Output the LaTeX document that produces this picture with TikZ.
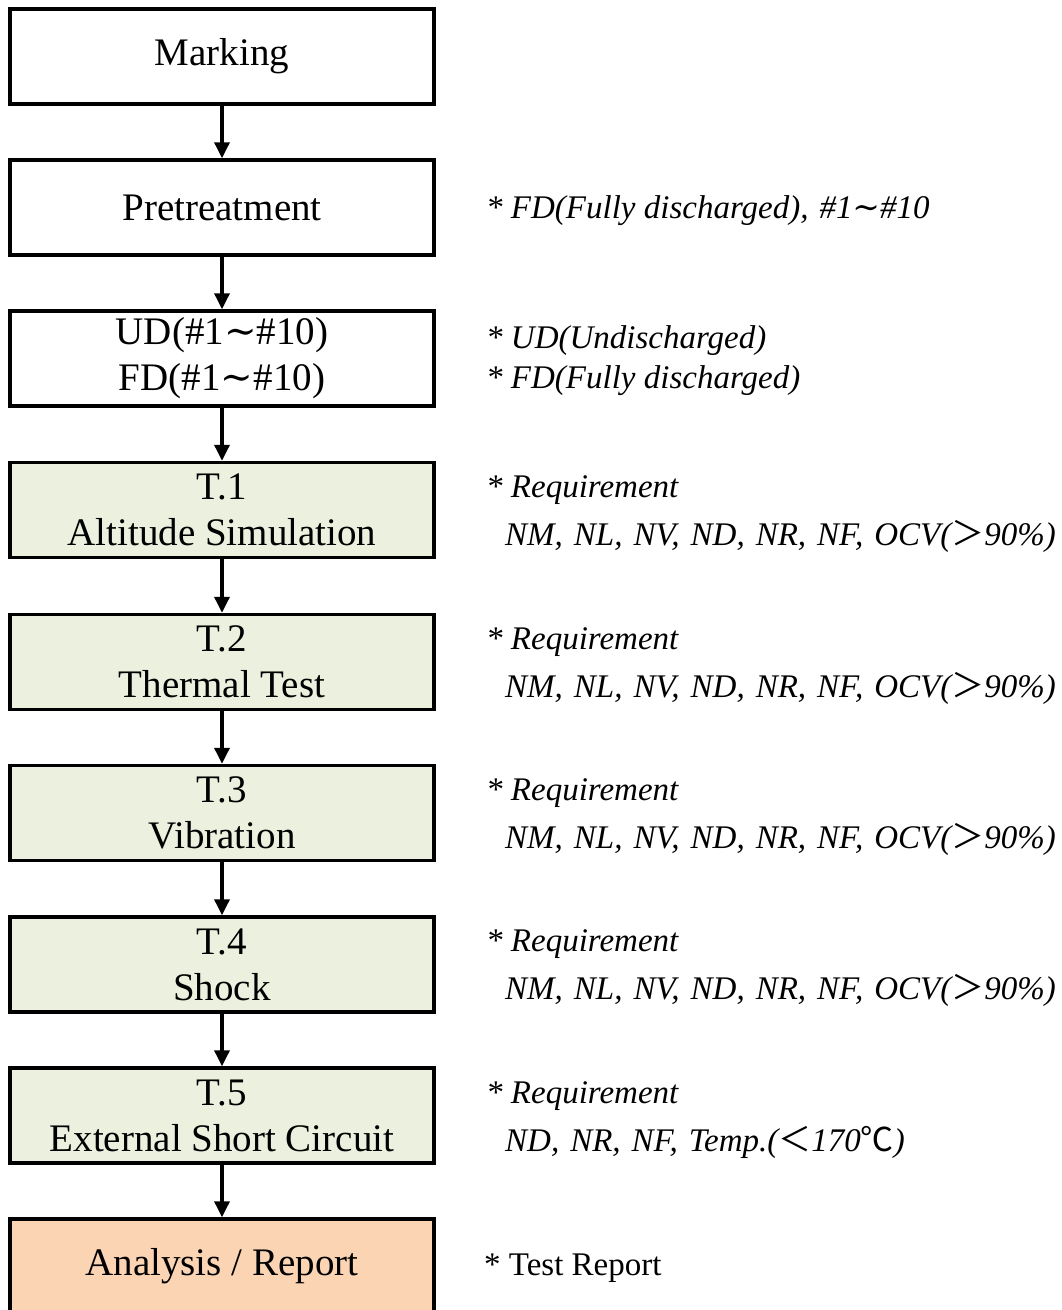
\documentclass[tikz,border=0pt]{standalone}
\usepackage{fontspec}
\setmainfont{Liberation Serif}
\newfontfamily\cjk{Noto Sans CJK KR}
\newfontfamily\dvs{DejaVu Serif}
\usetikzlibrary{arrows.meta}
\definecolor{boxgreen}{HTML}{EBF1DE}
\definecolor{boxorange}{HTML}{FBD4B4}
\newcommand{\gap}{\hspace{11pt}}
\newcommand{\wave}{{\dvs ∼}}
\tikzset{
  stepbox/.style={draw=black, line width=3.5pt, minimum width=424pt, minimum height=95pt,
    align=center, inner sep=0pt, font=\fontsize{39}{46}\selectfont},
  testbox/.style={stepbox, fill=boxgreen},
  reportbox/.style={stepbox, fill=boxorange},
  flow/.style={line width=3.5pt, -{Triangle[width=15pt,length=16pt]}},
  note/.style={anchor=west, inner sep=0pt, font=\fontsize{33}{40}\selectfont\itshape},
  plainnote/.style={anchor=west, inner sep=0pt, font=\fontsize{33}{40}\selectfont},
}
\begin{document}
\begin{tikzpicture}[x=1pt,y=-1pt]
\useasboundingbox (0,0) rectangle (1062,1310);
\fill[white] (0,0) rectangle (1062,1310);
\node[stepbox] (mark) at (222,56.5) {Marking};
\node[stepbox] (pre) at (222,207.5) {Pretreatment};
\node[stepbox] (udfd) at (222,358.5) {UD(\#1\wave\#10)\\FD(\#1\wave\#10)};
\node[testbox] (t1) at (222,510) {T.1\\Altitude Simulation};
\node[testbox] (t2) at (222,662) {T.2\\Thermal Test};
\node[testbox] (t3) at (222,813) {T.3\\Vibration};
\node[testbox] (t4) at (222,964.5) {T.4\\Shock};
\node[testbox] (t5) at (222,1115.5) {T.5\\External Short Circuit};
\node[reportbox] (rep) at (222,1266.5) {Analysis / Report};
\foreach \a/\b in {mark/pre,pre/udfd,udfd/t1,t1/t2,t2/t3,t3/t4,t4/t5,t5/rep}
  \draw[flow] (\a.south) -- (\b.north);
\node[note] (n0) at (486,211) {* FD(Fully discharged),\gap\#1\wave\#10};
\node[note] (n1a) at (486,341) {* UD(Undischarged)};
\node[note] (n1b) at (486,381) {* FD(Fully discharged)};
\foreach \y/\nm in {490/r1,642/r2,793/r3,944/r4}{
  \node[note] (\nm a) at (486,\y) {* Requirement};
  \node[note] (\nm b) at (505,\y+46) {NM,\gap NL,\gap NV,\gap ND,\gap NR,\gap NF,\gap OCV({\cjk ＞}90\%)};
}
\node[note] (r5a) at (486,1096) {* Requirement};
\node[note] (r5b) at (505,1142) {ND,\gap NR,\gap NF,\gap Temp.({\cjk ＜}170{\cjk ℃})};
\node[plainnote] (rep n) at (484,1268) {* Test Report};
\end{tikzpicture}
\end{document}
